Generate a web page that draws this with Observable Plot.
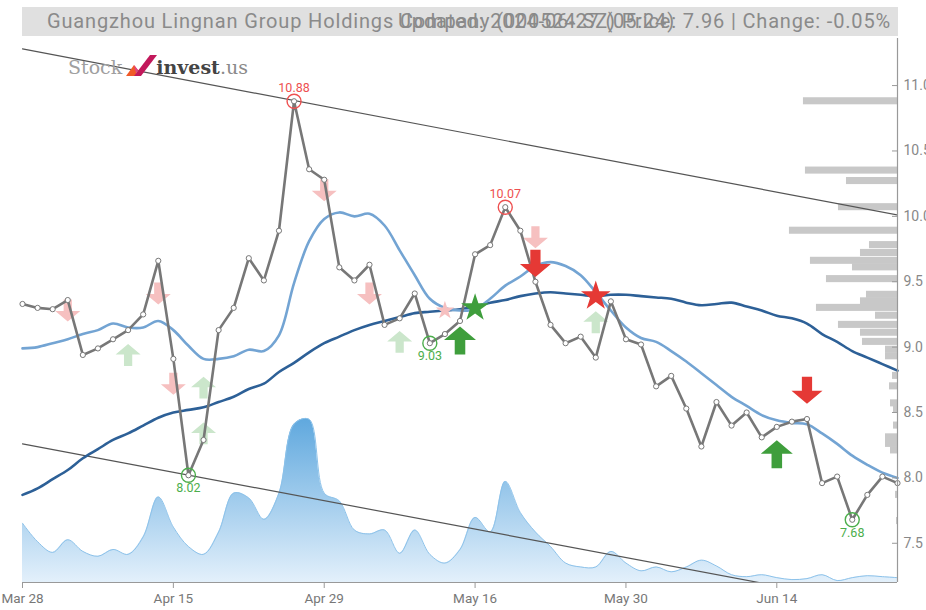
<!DOCTYPE html>
<html><head><meta charset="utf-8">
<script src="https://cdn.jsdelivr.net/npm/d3@7"></script>
<script src="https://cdn.jsdelivr.net/npm/@observablehq/plot@0.6"></script>
<style>
html,body{margin:0;padding:0;background:#fff;overflow:hidden}
#wrap{position:relative;width:926px;height:610px}
#titlebar{position:absolute;left:22px;top:7px;width:876px;height:29px;background:#e0e0e0}
.tt{position:absolute;top:7px;height:29px;line-height:29px;font-family:Roboto,sans-serif;font-size:20px;color:#8a8a8a;white-space:nowrap}
#logo{position:absolute;left:68px;top:52px;height:26px;font-family:'DejaVu Serif',serif;font-size:19px;white-space:nowrap;display:flex;align-items:flex-end}
</style></head>
<body><div id="wrap">
<div id="chart"></div>
<div id="titlebar"></div>
<div class="tt" id="t1" style="left:47px">Guangzhou Lingnan Group Holdings Company (000524.SZ) Price: 7.96 | Change: -0.05%</div>
<div class="tt" id="t2" style="left:398px">Updated: 2024-06-27 (05:24)</div>
<div id="logo"><span style="color:#a0a0a0">Stock</span><svg width="34" height="24" viewBox="0 0 34 24" style="margin:0 -2px 0 2px"><path d="M2 22 L10 11 L14 16 L11 22 Z" fill="#f05a28"/><path d="M10 22 L26 1 L33 1 L17 22 Z" fill="#c2185b"/><path d="M10 11 L14 16 L12 19 Z" fill="#e0408a"/></svg><span style="color:#444;font-weight:bold">invest</span><span style="color:#8a8a8a">.us</span></div>
</div>
<script>
// ---- data ----
const dates = ["Mar 28","Mar 29","Apr 1","Apr 2","Apr 3","Apr 8","Apr 9","Apr 10","Apr 11","Apr 12",
  "Apr 15","Apr 16","Apr 17","Apr 18","Apr 19","Apr 22","Apr 23","Apr 24","Apr 25","Apr 26",
  "Apr 29","Apr 30","May 6","May 7","May 8","May 9","May 10","May 13","May 14","May 15",
  "May 16","May 17","May 20","May 21","May 22","May 23","May 24","May 27","May 28","May 29",
  "May 30","May 31","Jun 3","Jun 4","Jun 5","Jun 6","Jun 7","Jun 11","Jun 12","Jun 13",
  "Jun 14","Jun 17","Jun 18","Jun 19","Jun 20","Jun 21","Jun 24","Jun 25","Jun 26"];
const closePrice = [9.33,9.30,9.29,9.36,8.94,8.99,9.06,9.13,9.25,9.66,
  8.91,8.02,8.29,9.13,9.30,9.68,9.51,9.89,10.88,10.36,
  10.28,9.61,9.51,9.63,9.17,9.22,9.41,9.03,9.10,9.20,
  9.71,9.78,10.07,9.89,9.50,9.17,9.03,9.08,8.92,9.35,
  9.06,9.02,8.70,8.78,8.53,8.24,8.58,8.40,8.50,8.31,
  8.39,8.43,8.45,7.96,8.01,7.68,7.87,8.01,7.96];
const maShort = [8.99,9.00,9.03,9.06,9.10,9.13,9.18,9.15,9.15,9.20,
  9.13,9.01,8.91,8.91,8.93,8.98,8.97,9.09,9.49,9.81,
  9.98,10.03,10.00,10.02,9.93,9.74,9.55,9.37,9.30,9.28,
  9.29,9.37,9.47,9.54,9.62,9.65,9.62,9.55,9.42,9.28,
  9.15,9.07,9.04,8.97,8.89,8.80,8.71,8.62,8.55,8.48,
  8.44,8.42,8.41,8.34,8.26,8.17,8.10,8.04,8.00];
const maLong = [7.87,7.92,7.99,8.06,8.15,8.22,8.29,8.34,8.40,8.46,
  8.50,8.52,8.54,8.58,8.62,8.68,8.72,8.81,8.88,8.96,
  9.03,9.08,9.13,9.17,9.20,9.23,9.26,9.27,9.28,9.29,
  9.31,9.34,9.36,9.39,9.41,9.42,9.41,9.40,9.39,9.40,
  9.40,9.39,9.38,9.37,9.34,9.32,9.33,9.34,9.31,9.28,
  9.24,9.22,9.18,9.10,9.04,8.97,8.92,8.87,8.82];
const volume = [6.1,4.2,3.1,4.4,3.2,2.7,3.4,2.9,4.7,8.8,
  5.7,3.7,2.9,5.2,9.2,8.7,6.5,9.2,16.3,16.8,
  9.2,8.4,5.4,5.0,5.4,3.0,5.4,2.9,2.0,3.4,
  6.7,5.2,10.4,7.2,5.2,3.7,2.0,1.6,1.6,3.2,
  2.0,1.2,1.6,1.1,1.6,2.3,1.7,0.8,0.6,0.8,
  0.5,0.3,0.4,0.8,0.2,0.5,0.7,0.6,0.5];
const profilePrice = [10.88,10.35,10.27,10.07,9.89,9.78,9.72,9.66,9.61,9.52,
  9.40,9.35,9.30,9.24,9.17,9.11,9.04,8.98,8.93,8.78,
  8.70,8.57,8.52,8.40,8.31,8.26,8.21,7.87,7.67];
const profileVolume = [94,92,51,59,108,28,37,87,45,71,
  31,37,81,22,59,37,35,12,12,5,
  8,7,4,4,12,12,7,2,1];
const xTickLabels = ["Mar 28","Apr 15","Apr 29","May 16","May 30","Jun 14"];
const yTicks = [7.5,8.0,8.5,9.0,9.5,10.0,10.5,11.0];
const trendUpper = [11.28, 10.01];   // value at first and last date
const trendLower = [8.26, 7.00];
const extremaDates = ["Apr 16","Apr 25","May 13","May 20","Jun 21"];
const extremaValues = [8.02,10.88,9.03,10.07,7.68];
const extremaKinds = ["low","high","low","high","low"];
const signalDates = ["Apr 2","Apr 10","Apr 12","Apr 15","Apr 17","Apr 17","Apr 29","May 7","May 9","May 14",
  "May 16","May 15","May 22","May 22","May 28","May 28","Jun 14","Jun 18"];
const signalPrices = [9.28,8.94,9.41,8.72,8.69,8.34,10.20,9.41,9.04,9.28,
  9.30,9.05,9.84,9.64,9.39,9.19,8.18,8.67];
const signalTypes = ["sellWeak","buyWeak","sellWeak","sellWeak","buyWeak","buyWeak","sellWeak","sellWeak","buyWeak","starSellWeak",
  "starBuy","buy","sellWeak","sell","starSell","buyWeak","buy","sell"];

// ---- build ----
const N = dates.length, xMax = N - 1;
const yMin = 7.2, yMax = 11.36;
const rows = dates.map((d, i) => ({i, date: d, close: closePrice[i], ma1: maShort[i], ma2: maLong[i], vol: volume[i]}));
const maxVol = d3.max(volume);
const volY = v => yMin + v / maxVol * 0.30 * (yMax - yMin);
const maxProf = d3.max(profileVolume);
const profRows = profilePrice.map((p, k) => ({p, v: profileVolume[k]}));
const profX1 = v => xMax - v / maxProf * 0.1235 * xMax;
const binHalf = 0.027;
const trendRows = (vals) => [{i: 0, y: vals[0]}, {i: xMax, y: vals[1]}];
const extRows = extremaDates.map((d, k) => ({i: dates.indexOf(d), y: extremaValues[k], kind: extremaKinds[k]}));
const sigRows = signalDates.map((d, k) => ({i: dates.indexOf(d), y: signalPrices[k], type: signalTypes[k]}));

function arrow(dir) {
  return {draw(ctx, size) {
    const r = Math.sqrt(size / Math.PI);
    const sw = r * 0.33, h = r * 1.75;
    const top = -h / 2 * dir, mid = 0.02 * h * dir, tip = h / 2 * dir;
    ctx.moveTo(-sw, top); ctx.lineTo(sw, top); ctx.lineTo(sw, mid); ctx.lineTo(r, mid);
    ctx.lineTo(0, tip); ctx.lineTo(-r, mid); ctx.lineTo(-sw, mid); ctx.closePath();
  }};
}
const DOWN = arrow(1), UP = arrow(-1);
const RED = "#e53935", GREEN = "#3f9e3c", LRED = "#f6c0c0", LGREEN = "#cbe6cb";
const sigStyle = {
  sellWeak: {symbol: DOWN, fill: LRED, r: 12.5},
  buyWeak: {symbol: UP, fill: LGREEN, r: 12.5},
  sell: {symbol: DOWN, fill: RED, r: 15.5},
  buy: {symbol: UP, fill: GREEN, r: 16},
  starSellWeak: {symbol: d3.symbolStar, fill: LRED, r: 5.8},
  starBuy: {symbol: d3.symbolStar, fill: GREEN, r: 8.8},
  starSell: {symbol: d3.symbolStar, fill: RED, r: 9.3}
};
const sigMarks = (weak) => Object.entries(sigStyle)
  .filter(([k]) => weak === k.endsWith("Weak"))
  .map(([k, s]) => Plot.dot(sigRows.filter(d => d.type === k), {x: "i", y: "y", symbol: s.symbol, fill: s.fill, r: s.r, stroke: "none"}));

const tickIdx = xTickLabels.map(l => dates.indexOf(l));

const chart = Plot.plot({
  width: 926, height: 610,
  marginLeft: 22, marginRight: 29, marginTop: 38, marginBottom: 28,
  x: {domain: [0, xMax], label: null},
  y: {domain: [yMin, yMax], label: null},
  style: {fontFamily: "Roboto, sans-serif", background: "transparent", overflow: "visible"},
  marks: [
    Plot.areaY(rows, {x: "i", y1: yMin, y2: d => volY(d.vol), curve: "catmull-rom", fill: "url(#volgrad)"}),
    Plot.line(rows, {x: "i", y: d => volY(d.vol), curve: "catmull-rom", stroke: "#8cc2ea", strokeWidth: 1}),
    Plot.rect(profRows, {x1: d => profX1(d.v), x2: xMax, y1: d => d.p - binHalf, y2: d => d.p + binHalf, fill: "#c8c8c8"}),
    Plot.line(trendRows(trendUpper), {x: "i", y: "y", stroke: "#555", strokeWidth: 1.2, clip: true}),
    Plot.line(trendRows(trendLower), {x: "i", y: "y", stroke: "#555", strokeWidth: 1.2, clip: true}),
    Plot.line(rows, {x: "i", y: "ma2", stroke: "#2d6097", strokeWidth: 2.6, curve: "catmull-rom"}),
    Plot.line(rows, {x: "i", y: "ma1", stroke: "#73a4d3", strokeWidth: 2.6, curve: "catmull-rom"}),
    ...sigMarks(true),
    Plot.line(rows, {x: "i", y: "close", stroke: "#777", strokeWidth: 2.6}),
    Plot.dot(rows, {x: "i", y: "close", r: 2.6, fill: "#fff", stroke: "#777", strokeWidth: 1}),
    Plot.dot(extRows, {x: "i", y: "y", r: 7, fill: "none", stroke: d => d.kind === "high" ? "#ee5050" : "#4cae4c", strokeWidth: 1.4}),
    Plot.text(extRows.filter(d => d.kind === "high"), {x: "i", y: "y", text: d => d.y.toFixed(2), dy: -13, fill: "#ee5050", fontSize: 12.5}),
    Plot.text(extRows.filter(d => d.kind === "low"), {x: "i", y: "y", text: d => d.y.toFixed(2), dy: 13, fill: "#4cae4c", fontSize: 12.5}),
    ...sigMarks(false),
    Plot.ruleY([yMin], {stroke: "#999", strokeWidth: 1.2}),
    Plot.ruleX([xMax], {stroke: "#999", strokeWidth: 1.2}),
    Plot.axisX(tickIdx, {tickFormat: i => dates[i], tickSize: 6, tickPadding: 5, fontSize: 13.5, color: "#777", stroke: "#999", label: null}),
    Plot.axisY(yTicks, {anchor: "right", tickSize: 6, dx: -6, tickPadding: 6, tickFormat: d3.format(".1f"), fontSize: 14, color: "#888", stroke: "#999", label: null})
  ]
});
const defs = d3.create("svg:defs");
const g = defs.append("linearGradient").attr("id", "volgrad").attr("x1", 0).attr("y1", 0).attr("x2", 0).attr("y2", 1);
g.append("stop").attr("offset", "0%").attr("stop-color", "#5fa8de");
g.append("stop").attr("offset", "100%").attr("stop-color", "#e3f0fb");
chart.insertBefore(defs.node(), chart.firstChild);
document.getElementById("chart").appendChild(chart);

// fit the title line to the width it takes in the reference (47px .. 891px)
const t1 = document.getElementById("t1");
const natural = t1.getBoundingClientRect().width;
const nChars = t1.textContent.length;
t1.style.letterSpacing = ((891 - 47 - natural) / nChars) + "px";
const t2 = document.getElementById("t2");
t2.style.letterSpacing = t1.style.letterSpacing;
</script>
</body></html>
